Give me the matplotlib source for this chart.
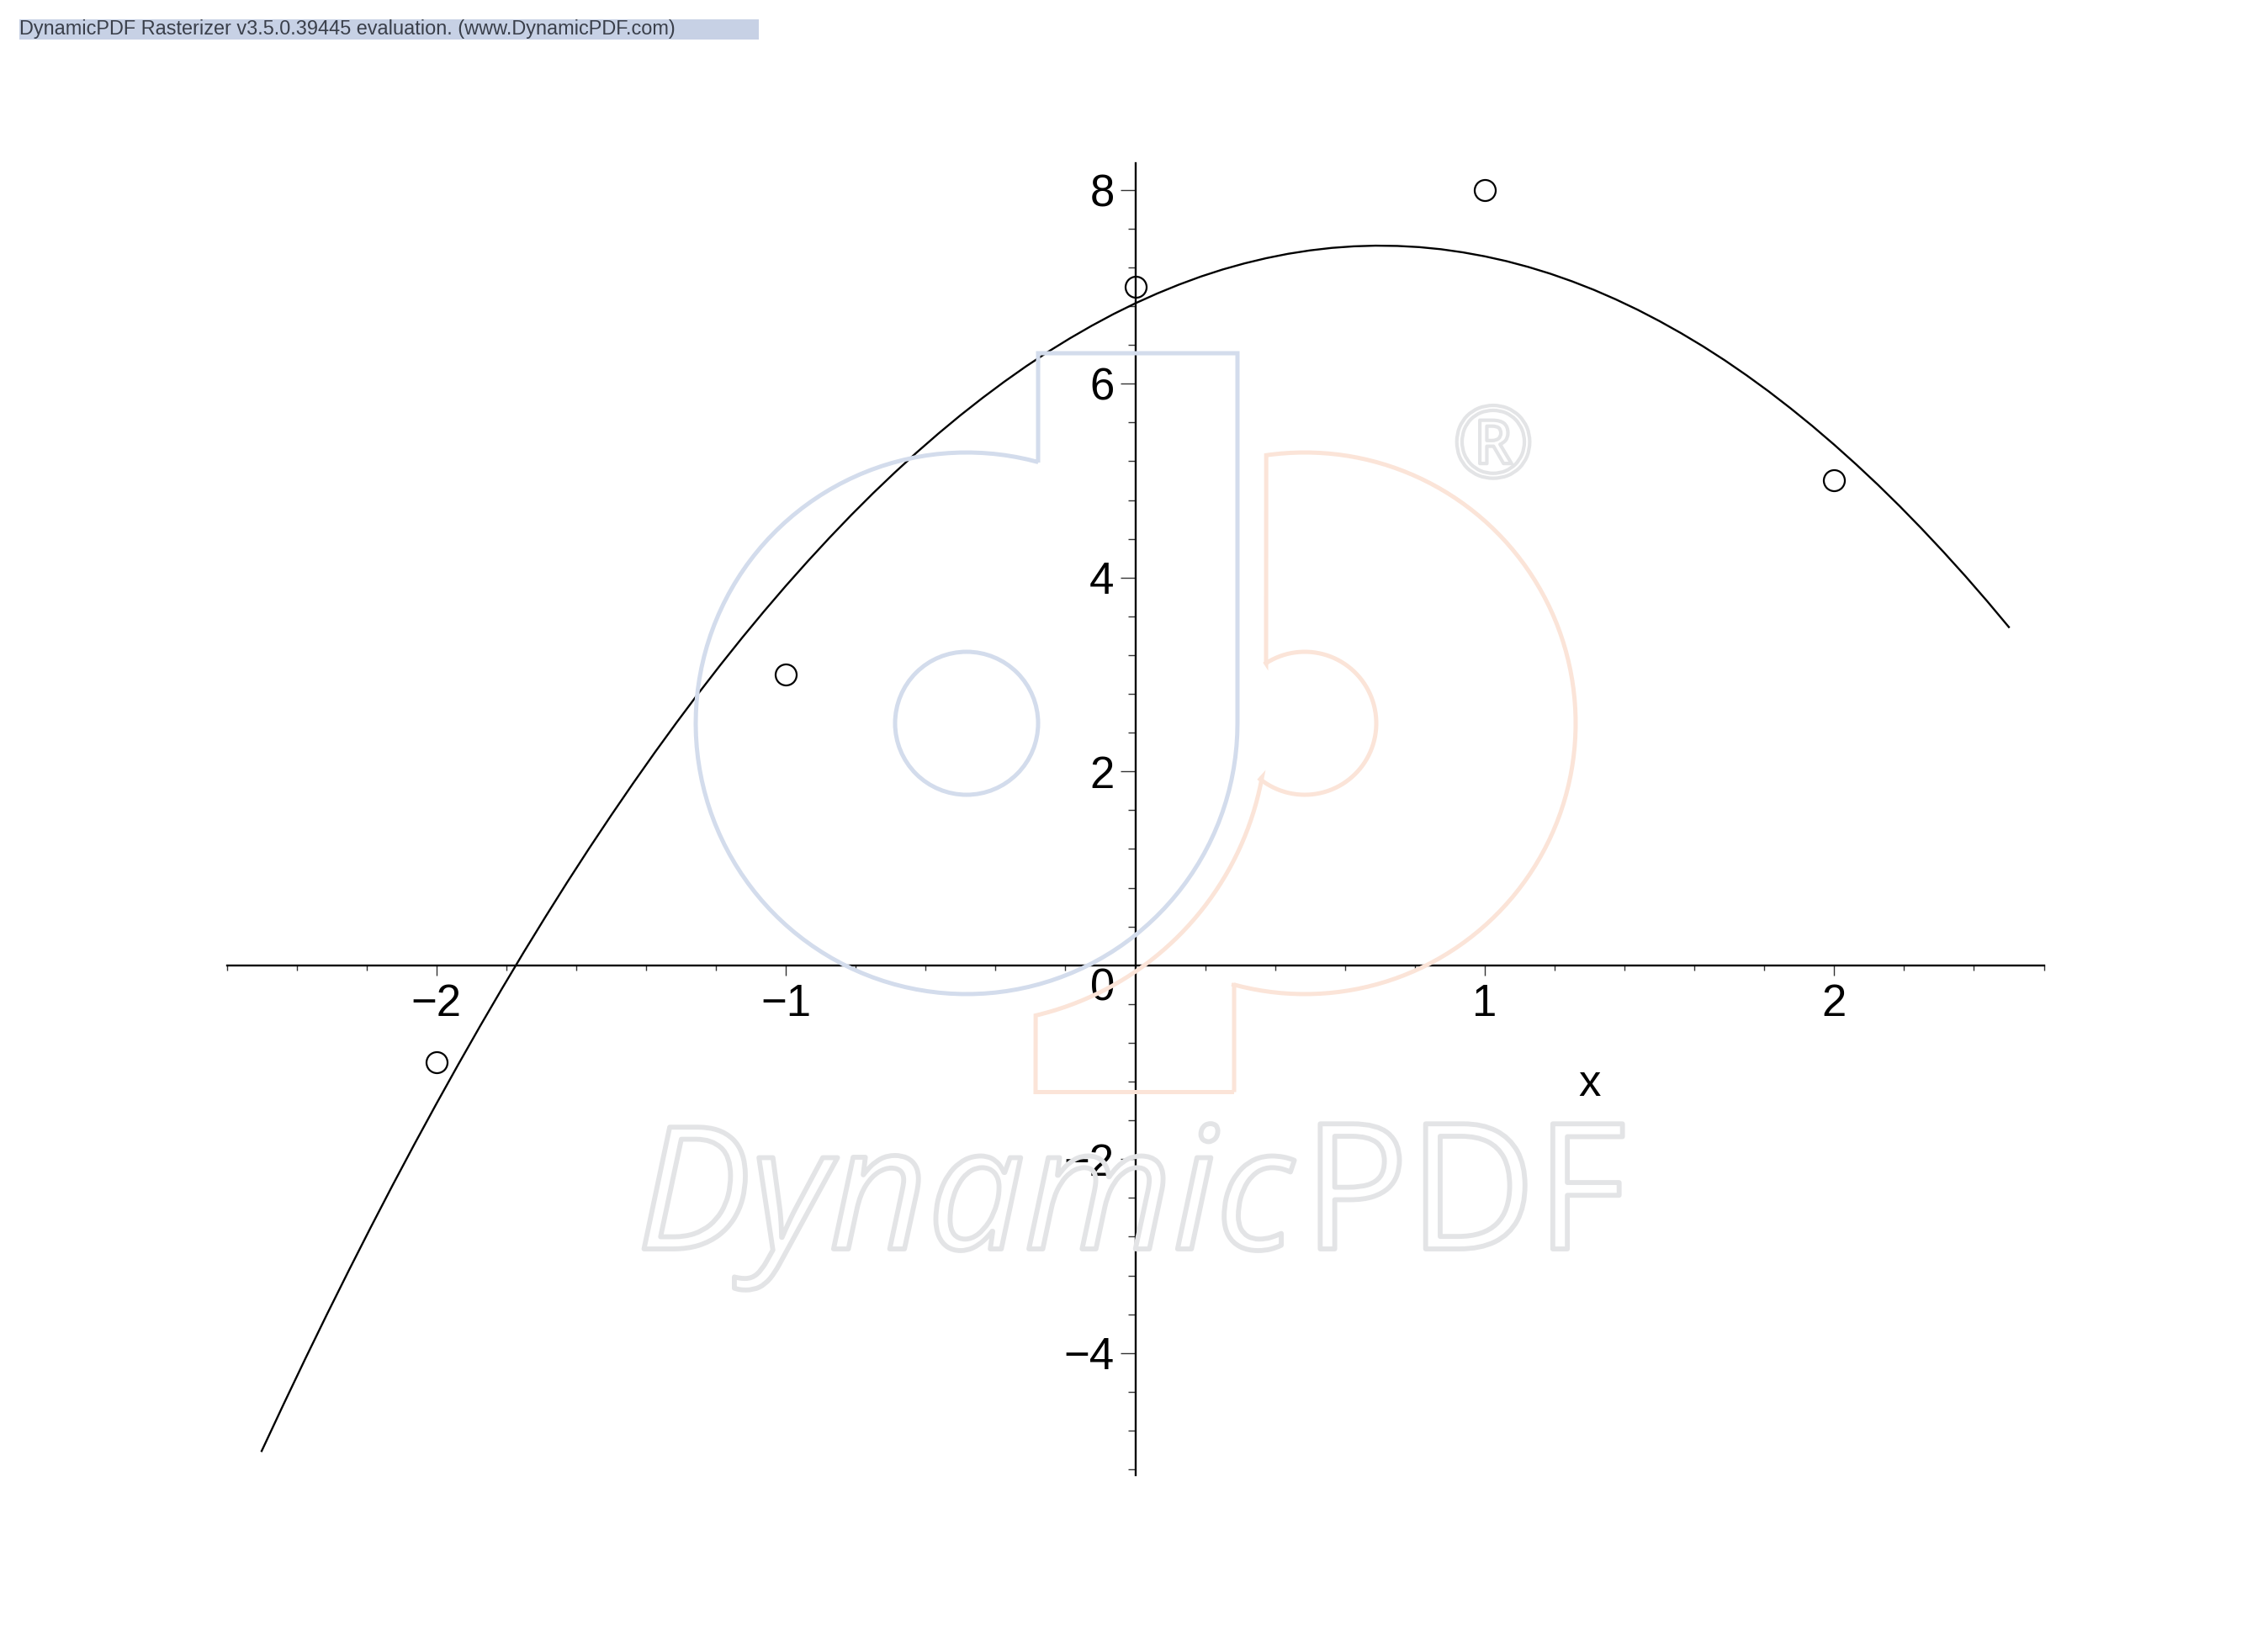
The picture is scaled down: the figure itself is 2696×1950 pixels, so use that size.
import numpy as np
import matplotlib
matplotlib.use("Agg")
import matplotlib.pyplot as plt
import matplotlib.patheffects as pe
from matplotlib.path import Path
from matplotlib.patches import PathPatch, Rectangle, Circle

W, H = 2696, 1950
DPI = 100

# data
point_x = [-2, -1, 0, 1, 2]
point_y = [-1, 3, 7, 8, 5]
curve_x = [-2.5, -2.4375, -2.375, -2.3125, -2.25, -2.1875, -2.125, -2.0625,
           -2.0, -1.9375, -1.875, -1.8125, -1.75, -1.6875, -1.625, -1.5625,
           -1.5, -1.4375, -1.375, -1.3125, -1.25, -1.1875, -1.125, -1.0625,
           -1.0, -0.9375, -0.875, -0.8125, -0.75, -0.6875, -0.625, -0.5625,
           -0.5, -0.4375, -0.375, -0.3125, -0.25, -0.1875, -0.125, -0.0625,
           0.0, 0.0625, 0.125, 0.1875, 0.25, 0.3125, 0.375, 0.4375,
           0.5, 0.5625, 0.625, 0.6875, 0.75, 0.8125, 0.875, 0.9375,
           1.0, 1.0625, 1.125, 1.1875, 1.25, 1.3125, 1.375, 1.4375,
           1.5, 1.5625, 1.625, 1.6875, 1.75, 1.8125, 1.875, 1.9375,
           2.0, 2.0625, 2.125, 2.1875, 2.25, 2.3125, 2.375, 2.4375, 2.5]
curve_y = [-5.011, -4.530, -4.058, -3.596, -3.144, -2.701, -2.267, -1.843,
           -1.429, -1.024, -0.628, -0.242, 0.135, 0.502, 0.860, 1.208,
           1.546, 1.875, 2.195, 2.505, 2.806, 3.097, 3.379, 3.651,
           3.914, 4.167, 4.411, 4.646, 4.871, 5.086, 5.292, 5.488,
           5.675, 5.852, 6.020, 6.179, 6.328, 6.467, 6.597, 6.718,
           6.829, 6.930, 7.022, 7.105, 7.178, 7.241, 7.295, 7.340,
           7.375, 7.401, 7.417, 7.424, 7.421, 7.409, 7.387, 7.355,
           7.314, 7.264, 7.204, 7.135, 7.056, 6.968, 6.870, 6.763,
           6.646, 6.520, 6.385, 6.240, 6.085, 5.921, 5.747, 5.564,
           5.371, 5.169, 4.958, 4.737, 4.506, 4.266, 4.017, 3.758, 3.489]
x_major = [-2, -1, 1, 2]
y_major = [-4, -2, 2, 4, 6, 8]
x_minor = [-2.6, -2.4, -2.2, -1.8, -1.6, -1.4, -1.2, -0.8, -0.6, -0.4, -0.2,
           0.2, 0.4, 0.6, 0.8, 1.2, 1.4, 1.6, 1.8, 2.2, 2.4, 2.6]
y_minor = [-5.2, -4.8, -4.4, -3.6, -3.2, -2.8, -2.4, -1.6, -1.2, -0.8, -0.4,
           0.4, 0.8, 1.2, 1.6, 2.4, 2.8, 3.2, 3.6, 4.4, 4.8, 5.2, 5.6, 6.4, 6.8, 7.2, 7.6]

plt.rcParams['font.family'] = ['Liberation Sans', 'DejaVu Sans']
fig = plt.figure(figsize=(W / DPI, H / DPI), dpi=DPI, facecolor='white')

# main axes, placed by pixels
L, R, T, B = 269.5, 2429.5, 194, 1754
ax = fig.add_axes([L / W, 1 - B / H, (R - L) / W, (B - T) / H])
ax.patch.set_alpha(0)
ax.set_xlim(-2.6, 2.6)
ax.set_ylim(-5.26, 8.275)
for s in ('top', 'right'):
    ax.spines[s].set_visible(False)
for s in ('left', 'bottom'):
    ax.spines[s].set_position(('data', 0))
    ax.spines[s].set_linewidth(1.7)
ax.set_xticks(x_major)
ax.set_yticks(y_major)
ax.set_xticks(x_minor, minor=True)
ax.set_yticks(y_minor, minor=True)
ax.set_xticklabels(['\u22122', '\u22121', '1', '2'])
ax.set_yticklabels(['\u22124', '\u22122', '2', '4', '6', '8'])
ax.tick_params(axis='x', which='major', length=8.6, width=1.0, color='#333333', pad=7, labelsize=38)
ax.tick_params(axis='y', which='major', length=13, width=1.0, color='#333333', pad=5, labelsize=38)
ax.tick_params(axis='x', which='minor', length=4.3, width=1.0, color='#333333')
ax.tick_params(axis='y', which='minor', length=6.5, width=1.0, color='#333333')

ax.plot(curve_x, curve_y, color='black', lw=1.7, clip_on=False, zorder=3)
ax.plot(point_x, point_y, ls='none', marker='o', ms=18, mfc='none', mec='black',
        mew=1.6, clip_on=False, zorder=4)
ax.text(1.30, -1.225, 'x', fontsize=38, ha='center', va='center')
ax.annotate('0', (0, 0), xytext=(-28, -20), textcoords='offset points',
            fontsize=38, ha='center', va='center')

# overlay in pixel units for the evaluation banner and watermark
ov = fig.add_axes([0, 0, 1, 1])
ov.set_xlim(0, W)
ov.set_ylim(H, 0)
ov.axis('off')
ov.patch.set_alpha(0)

ov.add_patch(Rectangle((23, 23), 879, 24, fc='#c7d1e5', ec='none'))
ov.text(23, 35, 'DynamicPDF Rasterizer v3.5.0.39445 evaluation. (www.DynamicPDF.com)',
        fontsize=16.9, color='#3a3f4a', ha='left', va='center')

BLUE, ORANGE, GREY = '#d3dcec', '#fbe4d8', '#e3e4e6'
LW = 3.6


def arc(cx, cy, r, a0, a1, n=120):
    t = np.radians(np.linspace(a0, a1, n))
    return np.column_stack([cx + r * np.cos(t), cy + r * np.sin(t)])


cxb, cyy, r_out, r_in = 1149, 860, 322, 85
cxo = 1551

# blue "d"; angles measured clockwise on screen because y points down
a_end = np.degrees(np.arctan2(550 - cyy, 1234 - cxb)) + 360
blue = np.vstack([[[1234, 550], [1234, 420], [1471, 420]], arc(cxb, cyy, r_out, 0, a_end)])
ov.add_patch(PathPatch(Path(blue), fc='none', ec=BLUE, lw=LW, joinstyle='miter'))
ov.add_patch(Circle((cxb, cyy), r_in, fc='none', ec=BLUE, lw=LW))

# orange "p"
a_top = np.degrees(np.arctan2(540 - cyy, 1505 - cxo))
a_bot = np.degrees(np.arctan2(1169 - cyy, 1467 - cxo))
a_i0 = np.degrees(np.arctan2(789 - cyy, 1505 - cxo))
a_i1 = np.degrees(np.arctan2(924 - cyy, 1500 - cxo))
a_g0 = np.degrees(np.arctan2(924 - cyy, 1500 - cxb))
a_g1 = np.degrees(np.arctan2(1207 - cyy, 1231 - cxb))
orange = np.vstack([
    [[1467, 1298.5], [1467, 1169]],
    arc(cxo, cyy, r_out, a_bot, a_top, 200),
    [[1505, 789]],
    arc(cxo, cyy, r_in, a_i0, a_i1, 80),
    arc(cxb, cyy, 357, a_g0, a_g1, 80),
    [[1231, 1298.5], [1467, 1298.5]],
])
ov.add_patch(PathPatch(Path(orange), fc='none', ec=ORANGE, lw=LW, joinstyle='miter'))

# outlined watermark text
stroke = [pe.Stroke(linewidth=4.2, foreground=GREY)]
ov.text(757, 1485, 'Dynamic', family='Open Sans', style='italic', fontsize=146,
        color='none', ha='left', va='baseline', path_effects=stroke)
ov.text(1549, 1485, 'PDF', family='Open Sans', fontsize=150,
        color='none', ha='left', va='baseline', path_effects=stroke)
ov.text(1775, 537, '\u00ae', family='Open Sans', fontsize=85,
        color='none', ha='center', va='center', path_effects=[pe.Stroke(linewidth=3.0, foreground=GREY)])

fig.savefig('out.png', dpi=DPI)
